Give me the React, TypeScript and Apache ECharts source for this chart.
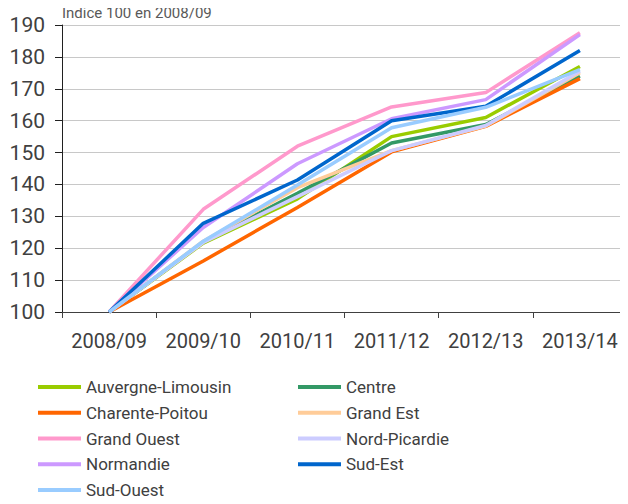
import React, { useEffect, useRef } from "react";
import * as echarts from "echarts";

const categories = ["2008/09", "2009/10", "2010/11", "2011/12", "2012/13", "2013/14"];

const auvergneLimousin = [100, 121.6, 135.5, 155.0, 161.0, 177.0];
const centre = [100, 122.0, 137.2, 153.0, 158.8, 174.0];
const charentePoitou = [100, 116.0, 132.8, 150.2, 158.2, 173.2];
const grandEst = [100, 122.2, 139.0, 150.6, 158.3, 175.0];
const grandOuest = [100, 132.2, 152.0, 164.3, 168.8, 187.6];
const nordPicardie = [100, 121.8, 136.2, 150.6, 158.5, 175.5];
const normandie = [100, 126.5, 146.5, 160.6, 166.6, 187.0];
const sudEst = [100, 127.8, 141.4, 160.0, 164.5, 182.0];
const sudOuest = [100, 122.2, 139.8, 157.8, 164.2, 176.0];

const yTicks = [100, 110, 120, 130, 140, 150, 160, 170, 180, 190];

const seriesDefs = [
  { name: "Auvergne-Limousin", data: auvergneLimousin, color: "#99CC00" },
  { name: "Centre", data: centre, color: "#339966" },
  { name: "Charente-Poitou", data: charentePoitou, color: "#FF6600" },
  { name: "Grand Est", data: grandEst, color: "#FFCC99" },
  { name: "Grand Ouest", data: grandOuest, color: "#FF99CC" },
  { name: "Nord-Picardie", data: nordPicardie, color: "#CCCCFF" },
  { name: "Normandie", data: normandie, color: "#CC99FF" },
  { name: "Sud-Est", data: sudEst, color: "#0066CC" },
  { name: "Sud-Ouest", data: sudOuest, color: "#99CCFF" },
];

const FONT = "Roboto, 'Liberation Sans', sans-serif";

export default function App() {
  const ref = useRef<HTMLDivElement>(null);
  useEffect(() => {
    if (!ref.current) return;
    const chart = echarts.init(ref.current, undefined, { renderer: "svg" });
    const legendCommon = {
      orient: "vertical" as const,
      top: 377,
      bottom: -60,
      padding: 0,
      itemWidth: 43,
      itemHeight: 4,
      itemGap: 5.75,
      icon: "rect",
      textStyle: { fontFamily: FONT, fontSize: 17, color: "#404040", lineHeight: 20 },
    };
    chart.setOption({
      animation: false,
      title: {
        text: "Indice 100 en 2008/09",
        left: 57,
        top: 0,
        textStyle: { fontFamily: FONT, fontSize: 15, fontWeight: "normal", color: "#595959" },
      },
      grid: { left: 62, right: 1, top: 25, bottom: 192, containLabel: false },
      legend: [
        { ...legendCommon, left: 38, data: ["Auvergne-Limousin", "Charente-Poitou", "Grand Ouest", "Normandie", "Sud-Ouest"] },
        { ...legendCommon, left: 298, data: ["Centre", "Grand Est", "Nord-Picardie", "Sud-Est"] },
      ],
      xAxis: {
        type: "category",
        data: categories,
        boundaryGap: true,
        axisLine: { lineStyle: { color: "#404040", width: 1 } },
        axisTick: { show: true, length: 6, interval: 0, lineStyle: { color: "#404040" } },
        axisLabel: { fontFamily: FONT, fontSize: 20, color: "#404040", margin: 19, interval: 0 },
        splitLine: { show: false },
      },
      yAxis: {
        type: "value",
        min: yTicks[0],
        max: yTicks[yTicks.length - 1],
        interval: 10,
        axisLine: { show: true, lineStyle: { color: "#202020", width: 1 } },
        axisTick: { show: true, length: 7, lineStyle: { color: "#202020" } },
        axisLabel: { fontFamily: FONT, fontSize: 21, color: "#404040", margin: 17 },
        splitLine: { show: true, lineStyle: { color: "#C8C8C8", width: 1 } },
      },
      series: seriesDefs.map((s) => ({
        name: s.name,
        type: "line",
        data: s.data,
        showSymbol: false,
        symbol: "none",
        color: s.color,
        lineStyle: { color: s.color, width: 3.5 },
        emphasis: { disabled: true },
      })),
    });
    return () => chart.dispose();
  }, []);
  return <div ref={ref} style={{ width: 628, height: 504, margin: -8 }} />;
}
